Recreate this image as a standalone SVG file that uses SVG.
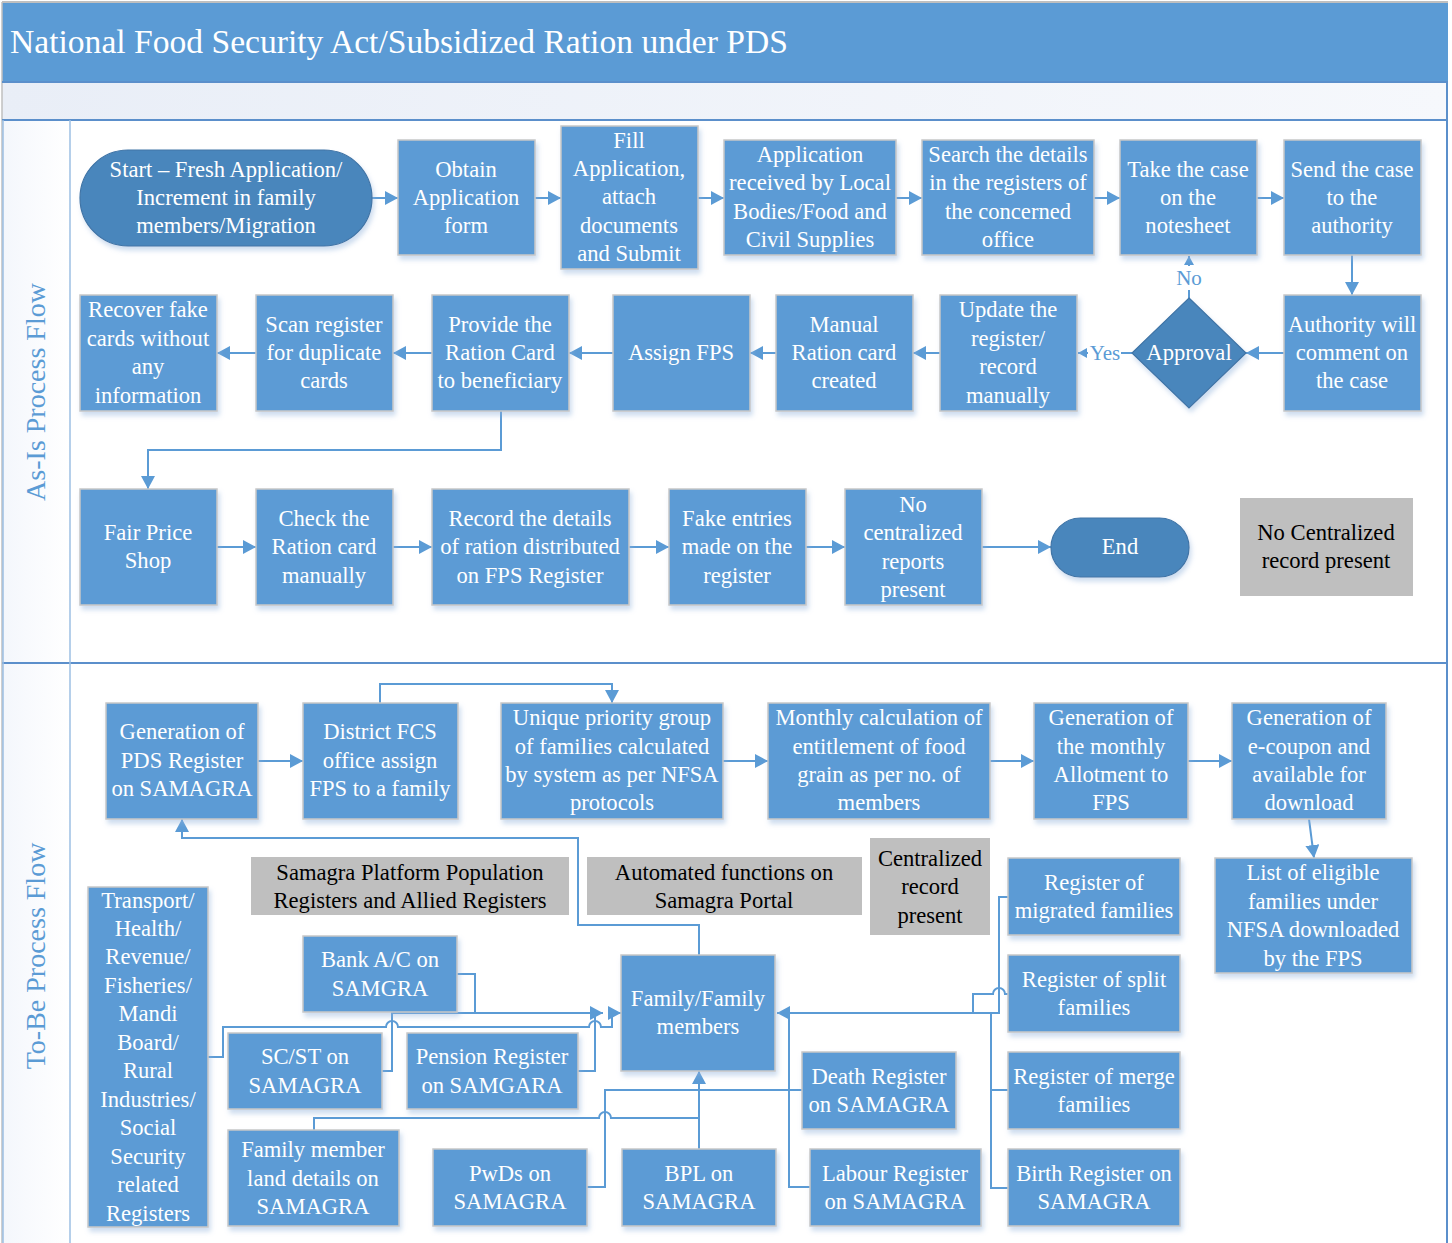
<svg xmlns="http://www.w3.org/2000/svg" width="1452" height="1243" viewBox="0 0 1452 1243">
<defs>
<style>
.box{fill:#5B9BD5;stroke:#C8C8C8;stroke-width:1.5;filter:url(#sh)}
.dark{fill:#4A86BC;stroke:#3F74A6;stroke-width:1.2;filter:url(#sh)}
.gray{fill:#BFBFBF;stroke:none}
.t{font-family:"Liberation Serif","Times New Roman",serif;font-size:22.6px;fill:#FFFFFF;text-anchor:middle}
.k{font-family:"Liberation Serif","Times New Roman",serif;font-size:22.6px;fill:#000000;text-anchor:middle}
.lbl{font-family:"Liberation Serif","Times New Roman",serif;font-size:21px;fill:#5B9BD5;text-anchor:middle}
.lane{font-family:"Liberation Serif","Times New Roman",serif;font-size:28px;fill:#5B9BD5;text-anchor:middle}
.c{fill:none;stroke:#5B9BD5;stroke-width:2}
.ca{fill:none;stroke:#5B9BD5;stroke-width:2;marker-end:url(#ah)}
.lanebd{fill:none;stroke:#5B8FCB;stroke-width:2}
</style>
<filter id="sh" x="-10%" y="-10%" width="125%" height="130%">
<feDropShadow dx="2" dy="4" stdDeviation="2.5" flood-color="#8FB2DC" flood-opacity="0.45"/>
</filter>
<marker id="ah" markerUnits="userSpaceOnUse" markerWidth="14" markerHeight="14" refX="13" refY="7" orient="auto">
<path d="M0,0 L13,7 L0,14 z" fill="#5B9BD5"/>
</marker>
<marker id="ahs" markerUnits="userSpaceOnUse" markerWidth="10" markerHeight="10" refX="9" refY="5" orient="auto">
<path d="M0,0 L9,5 L0,10 z" fill="#5B9BD5"/>
</marker>
<linearGradient id="band" x1="0" y1="0" x2="1" y2="0">
<stop offset="0" stop-color="#E9EEF7"/>
<stop offset="1" stop-color="#F6F8FC"/>
</linearGradient>
<linearGradient id="lanecol" x1="0" y1="0" x2="1" y2="0">
<stop offset="0" stop-color="#F4F7FC"/>
<stop offset="1" stop-color="#FFFFFF"/>
</linearGradient>
</defs>

<rect x="0" y="0" width="1452" height="1243" fill="#FFFFFF"/>

<g id="frame">
<rect x="2" y="3" width="1446" height="79" fill="#5B9BD5"/>
<rect x="2" y="82" width="1446" height="38" fill="url(#band)"/>
<rect x="3" y="121" width="67" height="1122" fill="url(#lanecol)"/>
<path d="M2,2 H1448" stroke="#BFBFBF" stroke-width="2"/>
<path d="M2,2 V1243" stroke="#BFBFBF" stroke-width="1.5"/>
<path d="M2,82 H1448" class="lanebd"/>
<path d="M2,120 H1448" class="lanebd"/>
<path d="M2,663 H1448" class="lanebd"/>
<path d="M70,120 V1243" stroke="#9DBFE3" stroke-width="1.5"/>
<path d="M1447,82 V1243" class="lanebd"/>
<path d="M3,120 V1243" stroke="#9DBFE3" stroke-width="1.5"/>
<text x="10" y="53" font-family="'Liberation Serif','Times New Roman',serif" font-size="33.6" fill="#FFFFFF">National Food Security Act/Subsidized Ration under PDS</text>
<text class="lane" transform="translate(45,392) rotate(-90)">As-Is Process Flow</text>
<text class="lane" transform="translate(45,956) rotate(-90)">To-Be Process Flow</text>
</g>

<g id="connectors">
<path class="ca" d="M372,198 H398"/>
<path class="ca" d="M535,198 H561"/>
<path class="ca" d="M698,198 H724"/>
<path class="ca" d="M896,198 H922"/>
<path class="ca" d="M1094,198 H1120"/>
<path class="ca" d="M1257,198 H1284"/>
<path class="ca" d="M1352,255 V295"/>
<path class="ca" d="M1284,353 H1246"/>
<path class="c" d="M1132,353 H1121"/>
<path class="c" d="M1088,353 L1078,353" style="marker-end:url(#ahs)"/>
<path class="c" d="M1189,298 V290"/>
<path class="c" d="M1189,266 L1189,256" style="marker-end:url(#ahs)"/>
<path class="ca" d="M940,353 H913"/>
<path class="ca" d="M776,353 H750"/>
<path class="ca" d="M613,353 H569"/>
<path class="ca" d="M432,353 H393"/>
<path class="ca" d="M256,353 H217"/>
<path class="ca" d="M501,411 V450 H148 V489"/>
<path class="ca" d="M217,547 H256"/>
<path class="ca" d="M393,547 H432"/>
<path class="ca" d="M629,547 H669"/>
<path class="ca" d="M806,547 H845"/>
<path class="ca" d="M982,547 H1051"/>
<path class="ca" d="M258,761 H303"/>
<path class="ca" d="M723,761 H768"/>
<path class="ca" d="M990,761 H1034"/>
<path class="ca" d="M1188,761 H1232"/>
<path class="ca" d="M380,703 V684 H612 V703"/>
<path class="ca" d="M1309,819 L1314,858"/>
<path class="ca" d="M699,955 V925 H578 V838 H182 V819"/>
<path class="c" d="M457,974 H475 V1013"/>
<path class="ca" d="M382,1071 H392 V1013 H603"/>
<path class="c" d="M578,1071 H595 V1013"/>
<path class="ca" d="M208,1057 H223 V1027 H386 A6,6 0 0 1 398,1027 H589 A6,6 0 0 1 601,1027 H612 V1013 H621"/>
<path class="ca" d="M699,1149 V1071"/>
<path class="c" d="M314,1130 V1118 H599 A6,6 0 0 1 611,1118 H699"/>
<path class="c" d="M587,1187 H605 V1090 H802"/>
<path class="c" d="M810,1187 H789 V1013"/>
<path class="ca" d="M1000,1013 H777"/>
<path class="c" d="M1008,897 H999 V1013"/>
<path class="c" d="M1008,994 H1005 A6,6 0 0 0 993,994 H973 V1013"/>
<path class="c" d="M991,1013 V1188 H1008"/>
<path class="c" d="M991,1090 H1008"/>
</g>

<g id="labels">
<text class="lbl" x="1105" y="360">Yes</text>
<text class="lbl" x="1189" y="285">No</text>
</g>

<g id="start"><rect class="dark" x="80" y="150" width="292" height="96" rx="48"/>
<text class="t"><tspan x="226" y="177">Start – Fresh Application/</tspan><tspan x="226" y="205">Increment in family</tspan><tspan x="226" y="233">members/Migration</tspan></text></g>
<g id="obtain"><rect class="box" x="398" y="140" width="137" height="115"/>
<text class="t"><tspan x="466" y="177">Obtain</tspan><tspan x="466" y="205">Application</tspan><tspan x="466" y="233">form</tspan></text></g>
<g id="fill"><rect class="box" x="561" y="126" width="137" height="143"/>
<text class="t"><tspan x="629" y="148">Fill</tspan><tspan x="629" y="176">Application,</tspan><tspan x="629" y="204">attach</tspan><tspan x="629" y="233">documents</tspan><tspan x="629" y="261">and Submit</tspan></text></g>
<g id="received"><rect class="box" x="724" y="140" width="172" height="115"/>
<text class="t"><tspan x="810" y="162">Application</tspan><tspan x="810" y="190">received by Local</tspan><tspan x="810" y="219">Bodies/Food and</tspan><tspan x="810" y="247">Civil Supplies</tspan></text></g>
<g id="search"><rect class="box" x="922" y="140" width="172" height="115"/>
<text class="t"><tspan x="1008" y="162">Search the details</tspan><tspan x="1008" y="190">in the registers of</tspan><tspan x="1008" y="219">the concerned</tspan><tspan x="1008" y="247">office</tspan></text></g>
<g id="notesheet"><rect class="box" x="1120" y="140" width="137" height="115"/>
<text class="t"><tspan x="1188" y="177">Take the case</tspan><tspan x="1188" y="205">on the</tspan><tspan x="1188" y="233">notesheet</tspan></text></g>
<g id="send"><rect class="box" x="1284" y="140" width="137" height="115"/>
<text class="t"><tspan x="1352" y="177">Send the case</tspan><tspan x="1352" y="205">to the</tspan><tspan x="1352" y="233">authority</tspan></text></g>

<g id="recover"><rect class="box" x="80" y="295" width="137" height="116"/>
<text class="t"><tspan x="148" y="317">Recover fake</tspan><tspan x="148" y="346">cards without</tspan><tspan x="148" y="374">any</tspan><tspan x="148" y="403">information</tspan></text></g>
<g id="scan"><rect class="box" x="256" y="295" width="137" height="116"/>
<text class="t"><tspan x="324" y="332">Scan register</tspan><tspan x="324" y="360">for duplicate</tspan><tspan x="324" y="388">cards</tspan></text></g>
<g id="provide"><rect class="box" x="432" y="295" width="137" height="116"/>
<text class="t"><tspan x="500" y="332">Provide the</tspan><tspan x="500" y="360">Ration Card</tspan><tspan x="500" y="388">to beneficiary</tspan></text></g>
<g id="assign"><rect class="box" x="613" y="295" width="137" height="116"/>
<text class="t"><tspan x="681" y="360">Assign FPS</tspan></text></g>
<g id="manual"><rect class="box" x="776" y="295" width="137" height="116"/>
<text class="t"><tspan x="844" y="332">Manual</tspan><tspan x="844" y="360">Ration card</tspan><tspan x="844" y="388">created</tspan></text></g>
<g id="update"><rect class="box" x="940" y="295" width="137" height="116"/>
<text class="t"><tspan x="1008" y="317">Update the</tspan><tspan x="1008" y="346">register/</tspan><tspan x="1008" y="374">record</tspan><tspan x="1008" y="403">manually</tspan></text></g>
<g id="approval"><path class="dark" d="M1189,298 L1246,353 L1189,408 L1132,353 Z"/>
<text class="t"><tspan x="1189" y="360">Approval</tspan></text></g>
<g id="authority"><rect class="box" x="1284" y="295" width="137" height="116"/>
<text class="t"><tspan x="1352" y="332">Authority will</tspan><tspan x="1352" y="360">comment on</tspan><tspan x="1352" y="388">the case</tspan></text></g>

<g id="fps"><rect class="box" x="80" y="489" width="137" height="116"/>
<text class="t"><tspan x="148" y="540">Fair Price</tspan><tspan x="148" y="568">Shop</tspan></text></g>
<g id="check"><rect class="box" x="256" y="489" width="137" height="116"/>
<text class="t"><tspan x="324" y="526">Check the</tspan><tspan x="324" y="554">Ration card</tspan><tspan x="324" y="583">manually</tspan></text></g>
<g id="record"><rect class="box" x="432" y="489" width="197" height="116"/>
<text class="t"><tspan x="530" y="526">Record the details</tspan><tspan x="530" y="554">of ration distributed</tspan><tspan x="530" y="583">on FPS Register</tspan></text></g>
<g id="fake"><rect class="box" x="669" y="489" width="137" height="116"/>
<text class="t"><tspan x="737" y="526">Fake entries</tspan><tspan x="737" y="554">made on the</tspan><tspan x="737" y="583">register</tspan></text></g>
<g id="noreports"><rect class="box" x="845" y="489" width="137" height="116"/>
<text class="t"><tspan x="913" y="512">No</tspan><tspan x="913" y="540">centralized</tspan><tspan x="913" y="569">reports</tspan><tspan x="913" y="597">present</tspan></text></g>
<g id="end"><rect class="dark" x="1051" y="518" width="138" height="59" rx="29.5"/>
<text class="t"><tspan x="1120" y="554">End</tspan></text></g>
<g id="norecord"><rect class="gray" x="1240" y="498" width="173" height="98"/>
<text class="k"><tspan x="1326" y="540">No Centralized</tspan><tspan x="1326" y="568">record present</tspan></text></g>

<g id="pdsreg"><rect class="box" x="106" y="703" width="152" height="116"/>
<text class="t"><tspan x="182" y="739">Generation of</tspan><tspan x="182" y="768">PDS Register</tspan><tspan x="182" y="796">on SAMAGRA</tspan></text></g>
<g id="district"><rect class="box" x="303" y="703" width="155" height="116"/>
<text class="t"><tspan x="380" y="739">District FCS</tspan><tspan x="380" y="768">office assign</tspan><tspan x="380" y="796">FPS to a family</tspan></text></g>
<g id="priority"><rect class="box" x="501" y="703" width="222" height="116"/>
<text class="t"><tspan x="612" y="725">Unique priority group</tspan><tspan x="612" y="754">of families calculated</tspan><tspan x="612" y="782">by system as per NFSA</tspan><tspan x="612" y="810">protocols</tspan></text></g>
<g id="monthly"><rect class="box" x="768" y="703" width="222" height="116"/>
<text class="t"><tspan x="879" y="725">Monthly calculation of</tspan><tspan x="879" y="754">entitlement of food</tspan><tspan x="879" y="782">grain as per no. of</tspan><tspan x="879" y="810">members</tspan></text></g>
<g id="allotment"><rect class="box" x="1034" y="703" width="154" height="116"/>
<text class="t"><tspan x="1111" y="725">Generation of</tspan><tspan x="1111" y="754">the monthly</tspan><tspan x="1111" y="782">Allotment to</tspan><tspan x="1111" y="810">FPS</tspan></text></g>
<g id="ecoupon"><rect class="box" x="1232" y="703" width="154" height="116"/>
<text class="t"><tspan x="1309" y="725">Generation of</tspan><tspan x="1309" y="754">e-coupon and</tspan><tspan x="1309" y="782">available for</tspan><tspan x="1309" y="810">download</tspan></text></g>
<g id="eligible"><rect class="box" x="1215" y="858" width="197" height="115"/>
<text class="t"><tspan x="1313" y="880">List of eligible</tspan><tspan x="1313" y="909">families under</tspan><tspan x="1313" y="937">NFSA downloaded</tspan><tspan x="1313" y="966">by the FPS</tspan></text></g>

<g id="samagraplatform"><rect class="gray" x="251" y="857" width="318" height="58"/>
<text class="k"><tspan x="410" y="880">Samagra Platform Population</tspan><tspan x="410" y="908">Registers and Allied Registers</tspan></text></g>
<g id="automated"><rect class="gray" x="587" y="857" width="275" height="58"/>
<text class="k"><tspan x="724" y="880">Automated functions on</tspan><tspan x="724" y="908">Samagra Portal</tspan></text></g>
<g id="centralized"><rect class="gray" x="870" y="838" width="120" height="97"/>
<text class="k"><tspan x="930" y="866">Centralized</tspan><tspan x="930" y="894">record</tspan><tspan x="930" y="923">present</tspan></text></g>

<g id="transport"><rect class="box" x="88" y="887" width="120" height="340"/>
<text class="t"><tspan x="148" y="908">Transport/</tspan><tspan x="148" y="936">Health/</tspan><tspan x="148" y="964">Revenue/</tspan><tspan x="148" y="993">Fisheries/</tspan><tspan x="148" y="1021">Mandi</tspan><tspan x="148" y="1050">Board/</tspan><tspan x="148" y="1078">Rural</tspan><tspan x="148" y="1107">Industries/</tspan><tspan x="148" y="1135">Social</tspan><tspan x="148" y="1164">Security</tspan><tspan x="148" y="1192">related</tspan><tspan x="148" y="1221">Registers</tspan></text></g>
<g id="bank"><rect class="box" x="303" y="936" width="154" height="76"/>
<text class="t"><tspan x="380" y="967">Bank A/C on</tspan><tspan x="380" y="996">SAMGRA</tspan></text></g>
<g id="scst"><rect class="box" x="228" y="1033" width="154" height="76"/>
<text class="t"><tspan x="305" y="1064">SC/ST on</tspan><tspan x="305" y="1093">SAMAGRA</tspan></text></g>
<g id="pension"><rect class="box" x="407" y="1033" width="171" height="76"/>
<text class="t"><tspan x="492" y="1064">Pension Register</tspan><tspan x="492" y="1093">on SAMGARA</tspan></text></g>
<g id="land"><rect class="box" x="228" y="1130" width="171" height="96"/>
<text class="t"><tspan x="313" y="1157">Family member</tspan><tspan x="313" y="1186">land details on</tspan><tspan x="313" y="1214">SAMAGRA</tspan></text></g>
<g id="pwds"><rect class="box" x="433" y="1149" width="154" height="77"/>
<text class="t"><tspan x="510" y="1181">PwDs on</tspan><tspan x="510" y="1209">SAMAGRA</tspan></text></g>
<g id="bpl"><rect class="box" x="622" y="1149" width="154" height="77"/>
<text class="t"><tspan x="699" y="1181">BPL on</tspan><tspan x="699" y="1209">SAMAGRA</tspan></text></g>
<g id="family"><rect class="box" x="621" y="955" width="154" height="116"/>
<text class="t"><tspan x="698" y="1006">Family/Family</tspan><tspan x="698" y="1034">members</tspan></text></g>
<g id="death"><rect class="box" x="802" y="1052" width="154" height="77"/>
<text class="t"><tspan x="879" y="1084">Death Register</tspan><tspan x="879" y="1112">on SAMAGRA</tspan></text></g>
<g id="labour"><rect class="box" x="810" y="1149" width="171" height="77"/>
<text class="t"><tspan x="895" y="1181">Labour Register</tspan><tspan x="895" y="1209">on SAMAGRA</tspan></text></g>
<g id="migrated"><rect class="box" x="1008" y="858" width="172" height="77"/>
<text class="t"><tspan x="1094" y="890">Register of</tspan><tspan x="1094" y="918">migrated families</tspan></text></g>
<g id="split"><rect class="box" x="1008" y="955" width="172" height="77"/>
<text class="t"><tspan x="1094" y="987">Register of split</tspan><tspan x="1094" y="1015">families</tspan></text></g>
<g id="merge"><rect class="box" x="1008" y="1052" width="172" height="77"/>
<text class="t"><tspan x="1094" y="1084">Register of merge</tspan><tspan x="1094" y="1112">families</tspan></text></g>
<g id="birth"><rect class="box" x="1008" y="1149" width="172" height="77"/>
<text class="t"><tspan x="1094" y="1181">Birth Register on</tspan><tspan x="1094" y="1209">SAMAGRA</tspan></text></g>
</svg>
